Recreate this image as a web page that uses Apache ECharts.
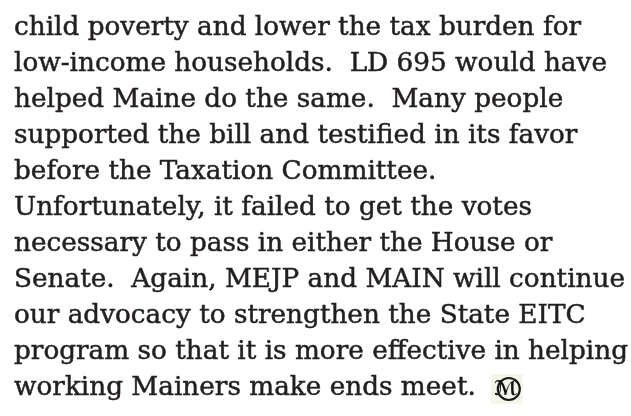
<!DOCTYPE html>
<html>
<head>
<meta charset="utf-8">
<script src="https://cdn.jsdelivr.net/npm/echarts@6/dist/echarts.min.js"></script>
<style>
  html, body { margin: 0; padding: 0; background: #ffffff; }
  #chart { width: 631px; height: 416px; }
</style>
</head>
<body>
<div id="chart"></div>
<script>
// Text content of the figure, one entry per printed line
const textLines = [
  'child poverty and lower the tax burden for',
  'low-income households.  LD 695 would have',
  'helped Maine do the same.  Many people',
  'supported the bill and testified in its favor',
  'before the Taxation Committee.',
  'Unfortunately, it failed to get the votes',
  'necessary to pass in either the House or',
  'Senate.  Again, MEJP and MAIN will continue',
  'our advocacy to strengthen the State EITC',
  'program so that it is more effective in helping',
  'working Mainers make ends meet.'
];
const endMark = '\u2133';

// Layout / style settings
const FONT_FAMILY = '"DejaVu Serif", serif';
const FONT_SIZE = 26;
const LEFT = 14;
const FIRST_MIDDLE = 28;
const LINE_STEP = 36;
const TARGET_WIDTH = 614; // width of the longest printed line
const TEXT_COLOR = '#231f20';

const chart = echarts.init(document.getElementById('chart'), null, { renderer: 'canvas' });

const ctx = document.createElement('canvas').getContext('2d');
ctx.font = FONT_SIZE + 'px ' + FONT_FAMILY;
const widths = textLines.map(t => ctx.measureText(t).width);
const maxW = Math.max.apply(null, widths);
const sx = TARGET_WIDTH / maxW;

const children = textLines.map((t, i) => ({
  type: 'text',
  x: 0,
  y: FIRST_MIDDLE + i * LINE_STEP,
  style: {
    text: t,
    fontFamily: FONT_FAMILY,
    fontSize: FONT_SIZE,
    fill: TEXT_COLOR,
    stroke: TEXT_COLOR,
    lineWidth: 0.5,
    verticalAlign: 'middle',
    align: 'left'
  }
}));

const lastIdx = textLines.length - 1;
const markX = LEFT + widths[lastIdx] * sx + 31;
const markY = FIRST_MIDDLE + lastIdx * LINE_STEP + 1;

chart.setOption({
  backgroundColor: '#ffffff',
  graphic: {
    elements: [
      {
        type: 'group',
        x: LEFT,
        y: 0,
        scaleX: sx,
        children: children
      },
      {
        type: 'rect',
        shape: { x: markX - 16, y: markY - 15, width: 32, height: 30 },
        style: { fill: '#f5f5ea' }
      },
      {
        type: 'circle',
        shape: { cx: markX + 2, cy: markY, r: 11 },
        style: { fill: 'none', stroke: '#1a1a1a', lineWidth: 2.2 }
      },
      {
        type: 'text',
        x: markX - 1,
        y: markY + 1,
        style: {
          text: endMark,
          fontFamily: '"DejaVu Sans", serif',
          fontSize: 20,
          fontStyle: 'italic',
          fontWeight: 'bold',
          fill: '#111',
          align: 'center',
          verticalAlign: 'middle'
        }
      }
    ]
  }
});
</script>
</body>
</html>
